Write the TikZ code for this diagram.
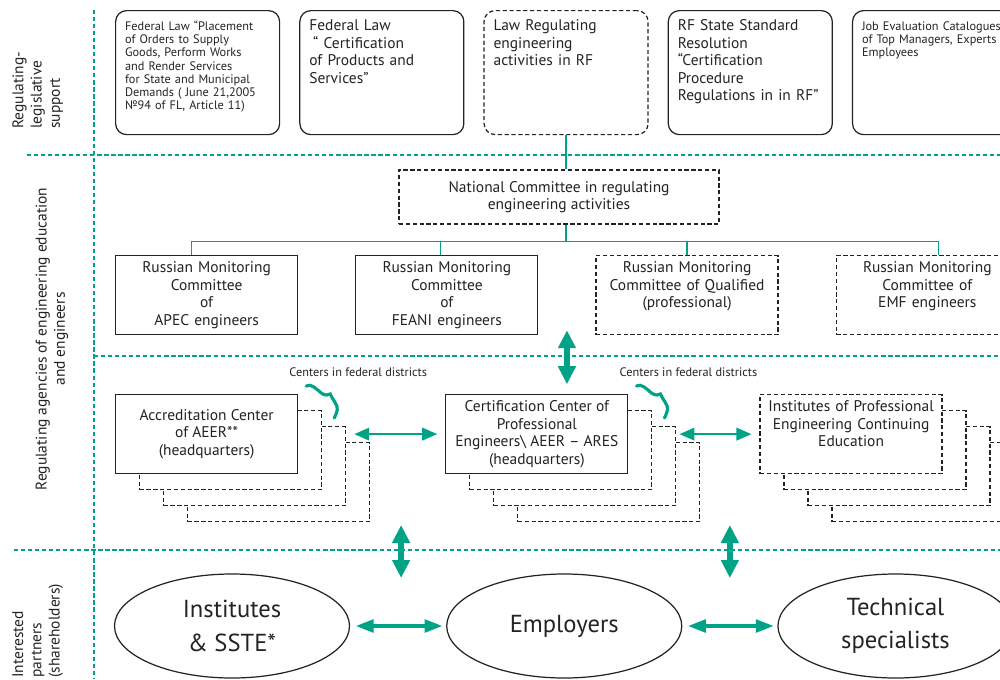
\documentclass[tikz,border=0pt]{standalone}
\usepackage{fontspec}
\setmainfont{PT Sans}
\usetikzlibrary{positioning, calc, shapes.geometric, arrows.meta, backgrounds}

\definecolor{linkteal}{RGB}{0,163,134}
\definecolor{inkgray}{RGB}{35,35,35}

\tikzset{
  inked/.style={draw=inkgray, line width=0.7pt, text=inkgray},
  dashedframe/.style={dash pattern=on 2.4pt off 1.5pt},
  lawbox/.style={inked, rounded corners=2.2mm, text width=29mm, align=left,
    inner xsep=1.9mm, inner ysep=1.6mm, text height=2.4mm, text depth=19.2mm,
    font=\fontsize{8.8}{10}\selectfont},
  lawsmall/.style={lawbox, font=\fontsize{7}{7.5}\selectfont},
  rmbox/.style={inked, fill=white, text width=34.4mm, align=center,
    inner xsep=1mm, inner ysep=1mm, text height=2.4mm, text depth=11.4mm,
    font=\fontsize{8.8}{10}\selectfont},
  hqbox/.style={inked, fill=white, minimum width=36.4mm, minimum height=15.8mm,
    align=center, inner sep=0.5mm, font=\fontsize{8.8}{10}\selectfont},
  copybox/.style={inked, dashedframe, fill=white, minimum width=36.4mm,
    minimum height=15.8mm, inner sep=0},
  partner/.style={inked, ellipse, minimum width=47mm, minimum height=20.8mm,
    inner sep=0, align=center, font=\fontsize{14}{19}\selectfont},
  rowlabel/.style={rotate=90, inner sep=0, text=inkgray, font=\fontsize{8.8}{10.4}\selectfont},
  divider/.style={draw=linkteal, line width=0.6pt, dash pattern=on 2.4pt off 1.6pt},
  busline/.style={draw=linkteal, line width=0.7pt},
  thinway/.style={draw=linkteal, line width=1.1pt,
    {Triangle[length=3mm,width=2.5mm]}-{Triangle[length=3mm,width=2.5mm]}},
  wideway/.style={draw=linkteal, line width=2.2pt,
    {Triangle[length=3.6mm,width=2.5mm]}-{Triangle[length=3.6mm,width=2.5mm]}},
  boldway/.style={draw=linkteal, line width=3.4pt,
    {Triangle[length=3.6mm,width=3.4mm]}-{Triangle[length=3.6mm,width=3.4mm]}},
  squiggle/.style={draw=linkteal, line width=1.8pt, line cap=round}
}

\begin{document}
\begin{tikzpicture}[x=0.2mm, y=-0.2mm]
\useasboundingbox (0,0) rectangle (1000,679);

% dividers
\draw[divider] (94,10) -- (94,679);
\draw[divider] (27,155) -- (1000,155);
\draw[divider] (94,356) -- (1000,356);
\draw[divider] (14,550) -- (1000,550);

\node[rowlabel, align=left, anchor=north west] (lblLaw) at (12,129) {Regulating-\\legislative\\support};
\node[rowlabel, align=center] (lblAgency) at (52,339) {Regulating agencies of engineering education\\and engineers};
\node[rowlabel, align=left, anchor=north west] (lblPartner) at (12,678) {Interested\\partners\\(shareholders)};

% laws
\node[lawsmall, anchor=north west] (law1) at (115,10) {Federal Law “Placement\\of Orders to Supply\\Goods, Perform Works\\and Render Services\\for State and Municipal\\Demands ( June 21,2005\\№94 of FL, Article 11)};
\node[lawbox, right=3.8mm of law1] (law2) {Federal Law\\\hspace*{0.25em}“ Certification\\of Products and\\Services”};
\node[lawbox, dashedframe, right=3.8mm of law2] (law3) {Law Regulating\\engineering\\activities in RF};
\node[lawbox, right=3.8mm of law3] (law4) {RF State Standard\\Resolution\\“Certification\\Procedure\\Regulations in in RF”};
\node[lawsmall, right=3.8mm of law4] (law5) {Job Evaluation Catalogues\\of Top Managers, Experts\\Employees};

\node[inked, dashedframe, minimum width=64mm, minimum height=10.8mm, align=center,
  font=\fontsize{8.8}{10}\selectfont] (nc) at (559,197) {National Committee in regulating\\engineering activities};

\node[rmbox, anchor=north west] (rmA) at (115,255) {Russian Monitoring\\Committee\\of\\APEC engineers};
\node[rmbox, right=11.4mm of rmA] (rmB) {Russian Monitoring\\Committee\\of\\FEANI engineers};
\node[rmbox, dashedframe, right=11.4mm of rmB] (rmC) {Russian Monitoring\\Committee of Qualified\\(professional)};
\node[rmbox, dashedframe, right=11.4mm of rmC] (rmD) {Russian Monitoring\\Committee of\\EMF engineers};

\draw[busline] (law3.south) -- (law3.south |- nc.north);
\draw[busline] (nc.south -| law3.south) -- ++(0,17) coordinate (bus);
\draw[busline] ($(rmA.north)+(-15,0)$) |- (bus) -| ($(rmD.north)+(11,0)$);
\draw[busline] ($(rmB.north)+(-6,0)$) -- ++(0,-14);
\draw[busline] (rmC.north) -- ++(0,-14);

% centers
\node[hqbox, anchor=north west] (acc) at (115,394) {Accreditation Center\\of AEER**\\(headquarters)};
\node[hqbox, right=29.4mm of acc] (cert) {Certification Center of\\Professional\\Engineers\textbackslash{} AEER – ARES\\(headquarters)};
\node[rmbox, dashedframe, right=26.2mm of cert] (inst) {Institutes of Professional\\Engineering Continuing\\Education};

\begin{scope}[on background layer]
\foreach \hub in {acc, cert, inst}
  \foreach \k in {3,2,1}
    \node[copybox] (\hub\k) at ($(\hub.center)+(24*\k,16*\k)$) {};
\end{scope}

\foreach \hub in {acc, cert}{
  \begin{scope}[shift={(\hub1.north east)}]
    \draw[squiggle] (-16,-24) .. controls (-11,-27) and (-6,-21) .. (-1,-17)
      .. controls (3,-14) and (6,-15) .. (8,-16)
      .. controls (11,-9) and (16,-5) .. (15,0)
      .. controls (14,4) and (13,6) .. (12,8);
    \node[text=inkgray, font=\fontsize{7}{8}\selectfont] (\hub note) at (36,-38) {Centers in federal districts};
  \end{scope}
}

\draw[thinway] ($(acc2.east |- cert.west)+(8,0)$) -- ($(cert.west)+(-8,0)$);
\draw[thinway] ($(cert2.east |- inst.west)+(3,0)$) -- ($(inst.west)+(-8,0)$);

\coordinate (rmgap) at ($(rmB.south east)!0.5!(rmC.south west)$);
\draw[boldway] ($(rmgap)+(0,-5)$) -- ($(rmgap)+(0,49)$);

% partners
\node[partner] (edu) at (232,626) {Institutes\\\& SSTE*};
\node[partner, right=19.2mm of edu] (empl) {Employers};
\node[partner, right=19mm of empl] (tech) {Technical\\specialists};

\coordinate (gapL) at ($(edu.east)!0.5!(empl.west)$);
\coordinate (gapR) at ($(empl.east)!0.5!(tech.west)$);
\draw[boldway] ($(gapL)+(3,-101)$) -- ($(gapL)+(3,-48)$);
\draw[boldway] ($(gapR)+(0,-101)$) -- ($(gapR)+(0,-48)$);
\draw[wideway, shorten <=1.1mm, shorten >=0.7mm] (edu.east) -- (empl.west);
\draw[wideway, shorten <=1.1mm, shorten >=0.7mm] (empl.east) -- (tech.west);
\end{tikzpicture}
\end{document}
